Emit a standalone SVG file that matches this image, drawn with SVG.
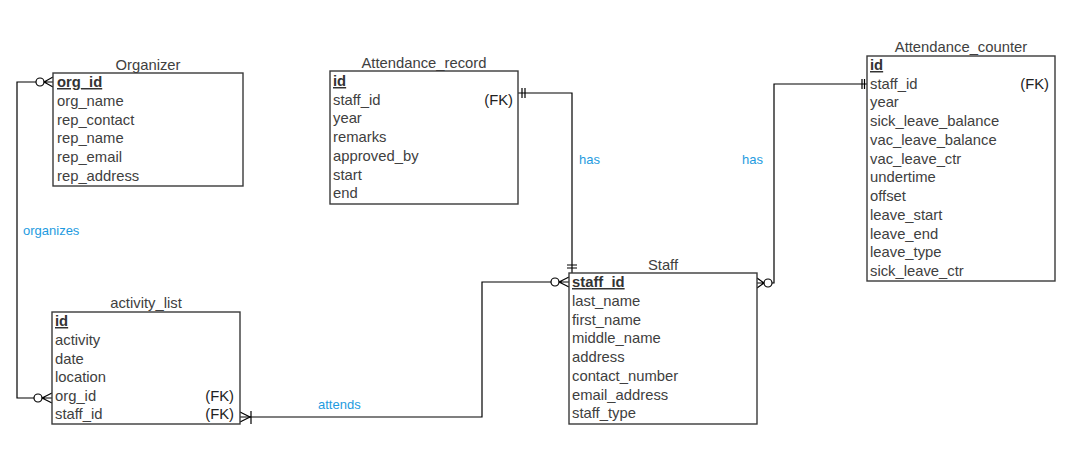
<svg xmlns="http://www.w3.org/2000/svg" width="1084" height="455" viewBox="0 0 1084 455">
<style>
.box{fill:#fff;stroke:#3a3a3a;stroke-width:1.4}
.t{font-family:"Liberation Sans",Arial,sans-serif;font-size:14.8px;fill:#404040}
.title{font-family:"Liberation Sans",Arial,sans-serif;font-size:14.8px;fill:#404040;text-anchor:middle}
.pk{font-weight:bold;text-decoration:underline;fill:#333}
.fk{text-anchor:end;fill:#222}
.ln{fill:none;stroke:#000;stroke-width:1.2}
.lbl{font-family:"Liberation Sans",Arial,sans-serif;font-size:13px;fill:#1e9be0}
</style>
<rect width="1084" height="455" fill="#fff"/>
<g id="connectors">
  <path class="ln" d="M36,82 H17 V398 H34"/>
  <circle class="ln" cx="40" cy="82" r="4"/>
  <path class="ln" d="M44,82 L53,77 M44,82 H53 M44,82 L53,87"/>
  <circle class="ln" cx="38" cy="398" r="4"/>
  <path class="ln" d="M42,398 L52,393 M42,398 H52 M42,398 L52,403"/>
  <text class="lbl" x="23" y="235">organizes</text>
  <path class="ln" d="M518,93 H572 V273"/>
  <path class="ln" d="M522,88 V98 M525,88 V98"/>
  <path class="ln" d="M567,265 H577 M567,268 H577"/>
  <text class="lbl" x="579" y="164">has</text>
  <path class="ln" d="M867,84 H774 V283 H772"/>
  <path class="ln" d="M862,79 V89 M864.5,79 V89"/>
  <circle class="ln" cx="768" cy="283" r="4"/>
  <path class="ln" d="M764,283 L757,278 M764,283 H757 M764,283 L757,288"/>
  <text class="lbl" x="742" y="164">has</text>
  <path class="ln" d="M551,282 H482 V417 H240"/>
  <circle class="ln" cx="555" cy="282" r="4"/>
  <path class="ln" d="M559,282 L569,277 M559,282 H569 M559,282 L569,287"/>
  <path class="ln" d="M240,412 L250,417 L240,422 M251,411 V424"/>
  <text class="lbl" x="318" y="409">attends</text>
</g>
<g id="Organizer">
  <text class="title" x="148" y="70">Organizer</text>
  <rect class="box" x="53" y="73" width="190" height="113"/>
  <text class="t pk" x="57" y="87">org_id</text>
  <text class="t" x="57" y="106">org_name</text>
  <text class="t" x="57" y="125">rep_contact</text>
  <text class="t" x="57" y="143">rep_name</text>
  <text class="t" x="57" y="162">rep_email</text>
  <text class="t" x="57" y="181">rep_address</text>
</g>
<g id="Attendance_record">
  <text class="title" x="424" y="68">Attendance_record</text>
  <rect class="box" x="330" y="71" width="188" height="133"/>
  <text class="t pk" x="333" y="86">id</text>
  <text class="t" x="333" y="105">staff_id</text>
  <text class="t fk" x="513" y="105">(FK)</text>
  <text class="t" x="333" y="123">year</text>
  <text class="t" x="333" y="142">remarks</text>
  <text class="t" x="333" y="161">approved_by</text>
  <text class="t" x="333" y="180">start</text>
  <text class="t" x="333" y="198">end</text>
</g>
<g id="Attendance_counter">
  <text class="title" x="961" y="52">Attendance_counter</text>
  <rect class="box" x="867" y="56" width="188" height="225"/>
  <text class="t pk" x="870" y="70">id</text>
  <text class="t" x="870" y="89">staff_id</text>
  <text class="t fk" x="1049" y="89">(FK)</text>
  <text class="t" x="870" y="107">year</text>
  <text class="t" x="870" y="126">sick_leave_balance</text>
  <text class="t" x="870" y="145">vac_leave_balance</text>
  <text class="t" x="870" y="164">vac_leave_ctr</text>
  <text class="t" x="870" y="182">undertime</text>
  <text class="t" x="870" y="201">offset</text>
  <text class="t" x="870" y="220">leave_start</text>
  <text class="t" x="870" y="239">leave_end</text>
  <text class="t" x="870" y="257">leave_type</text>
  <text class="t" x="870" y="276">sick_leave_ctr</text>
</g>
<g id="activity_list">
  <text class="title" x="146" y="308">activity_list</text>
  <rect class="box" x="52" y="312" width="188" height="112"/>
  <text class="t pk" x="55" y="326">id</text>
  <text class="t" x="55" y="345">activity</text>
  <text class="t" x="55" y="364">date</text>
  <text class="t" x="55" y="382">location</text>
  <text class="t" x="55" y="401">org_id</text>
  <text class="t fk" x="234" y="401">(FK)</text>
  <text class="t" x="55" y="419">staff_id</text>
  <text class="t fk" x="234" y="419">(FK)</text>
</g>
<g id="Staff">
  <text class="title" x="663" y="270">Staff</text>
  <rect class="box" x="569" y="273" width="188" height="151"/>
  <text class="t pk" x="572" y="287">staff_id</text>
  <text class="t" x="572" y="306">last_name</text>
  <text class="t" x="572" y="325">first_name</text>
  <text class="t" x="572" y="343">middle_name</text>
  <text class="t" x="572" y="362">address</text>
  <text class="t" x="572" y="381">contact_number</text>
  <text class="t" x="572" y="400">email_address</text>
  <text class="t" x="572" y="418">staff_type</text>
</g>
</svg>
